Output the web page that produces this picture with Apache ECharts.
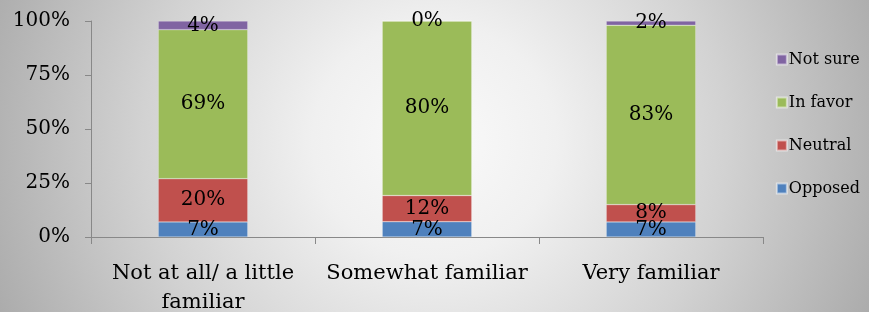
<!doctype html>
<html>
<head>
<meta charset="utf-8">
<title>Familiarity stacked</title>
<script src="https://cdn.jsdelivr.net/npm/echarts@6/dist/echarts.min.js"></script>
<style>
  html, body { margin: 0; padding: 0; }
  body {
    width: 869px; height: 312px;
    background: radial-gradient(ellipse 56% 150% at 50% 45%, #fafafa 0%, #f0f0f0 25%, #d2d2d2 60%, #a8a8a8 100%);
  }
</style>
</head>
<body>
<div id="chart" style="width:869px;height:312px;"></div>
<script>
// categories and series values (percent)
var categories = ['Not at all/ a little\nfamiliar', 'Somewhat familiar', 'Very familiar'];
var opposed = [7, 7, 7];
var neutral = [20, 12, 8];
var inFavor = [69, 80, 83];
var notSure = [4, 0, 2];
var yTicks = [0, 25, 50, 75, 100];

var seriesDefs = [
  { name: 'Opposed', data: opposed, color: '#4f81bd' },
  { name: 'Neutral', data: neutral, color: '#c0504d' },
  { name: 'In favor', data: inFavor, color: '#9bbb59' },
  { name: 'Not sure', data: notSure, color: '#8064a2' }
];

// 100% stacking, like the original chart
var totals = categories.map(function (c, i) {
  return seriesDefs.reduce(function (s, d) { return s + d.data[i]; }, 0);
});

var font = '"DejaVu Serif", "Liberation Serif", serif';

var chart = echarts.init(document.getElementById('chart'));
chart.setOption({
  backgroundColor: 'transparent',
  textStyle: { fontFamily: font },
  grid: { left: 91, right: 106, top: 21, bottom: 75, containLabel: false, outerBoundsMode: 'none' },
  legend: {
    orient: 'vertical',
    right: 4,
    top: 45,
    itemGap: 24,
    itemWidth: 10,
    itemHeight: 10,
    icon: 'rect',
    data: ['Not sure', 'In favor', 'Neutral', 'Opposed'],
    textStyle: { fontFamily: font, fontSize: 16, color: '#000', padding: [0, 0, 0, -3], height: 19, lineHeight: 19 }
  },
  xAxis: {
    type: 'category',
    data: categories,
    axisLine: { lineStyle: { color: '#888' } },
    axisTick: { show: true, length: 7, lineStyle: { color: '#888' } },
    axisLabel: { fontFamily: font, fontSize: 21, color: '#000', margin: 22, lineHeight: 29, interval: 0 }
  },
  yAxis: {
    type: 'value',
    min: 0, max: 100, interval: 25,
    axisLine: { show: true, lineStyle: { color: '#888' } },
    axisTick: { show: true, length: 6, lineStyle: { color: '#888' } },
    splitLine: { show: false },
    axisLabel: {
      fontFamily: font, fontSize: 20, color: '#000', margin: 21,
      formatter: function (v) { return yTicks.indexOf(v) >= 0 ? v + '%' : ''; }
    }
  },
  series: seriesDefs.map(function (d) {
    return {
      name: d.name,
      type: 'bar',
      stack: 'total',
      barWidth: '40%',
      itemStyle: { color: d.color, borderColor: 'rgba(255,255,255,0.5)', borderWidth: 0.5 },
      label: {
        show: true,
        position: 'inside',
        fontFamily: font,
        fontSize: 20,
        color: '#000',
        formatter: function (p) { return d.data[p.dataIndex] + '%'; }
      },
      data: d.data.map(function (v, i) { return v / totals[i] * 100; })
    };
  })
});
</script>
</body>
</html>
